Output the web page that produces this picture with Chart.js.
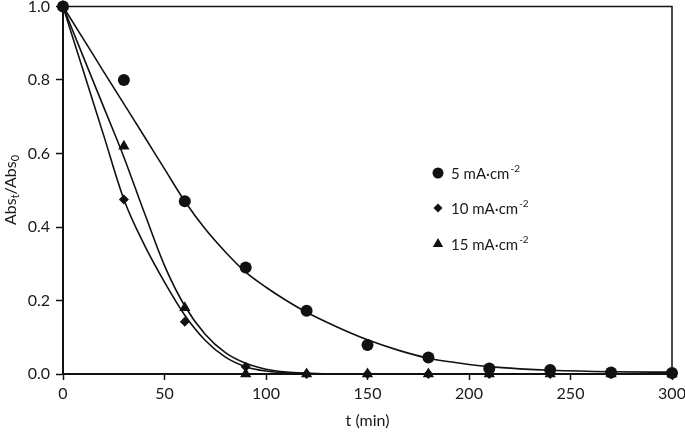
<!DOCTYPE html>
<html>
<head>
<meta charset="utf-8">
<script src="https://cdn.jsdelivr.net/npm/chart.js@4.4.0/dist/chart.umd.min.js"></script>
<style>
  html, body { margin: 0; padding: 0; background: #fff; }
  #wrap { width: 685px; height: 434px; }
</style>
</head>
<body>
<div id="wrap"><canvas id="myChart"></canvas></div>
<script>
// measured points (t in min, Abs_t/Abs_0)
const times = [0, 30, 60, 90, 120, 150, 180, 210, 240, 270, 300];
const abs5 = [1.0, 0.80, 0.47, 0.29, 0.172, 0.079, 0.045, 0.015, 0.011, 0.004, 0.003];
const abs10 = [1.0, 0.475, 0.142, 0.02, 0, 0, 0, 0, 0, 0, 0];
const abs15 = [1.0, 0.62, 0.18, 0, 0, 0, 0, 0, 0, 0, 0];

// fitted curves
const curveT = [0, 10, 20, 30, 40, 50, 60, 70, 80, 90, 100, 110, 120, 135, 150, 165, 180, 195, 210, 225, 240, 270, 300];
const curve5 = [1.0, 0.912, 0.823, 0.735, 0.647, 0.558, 0.47, 0.395, 0.332, 0.277, 0.236, 0.2, 0.168, 0.128, 0.093, 0.065, 0.043, 0.03, 0.02, 0.014, 0.01, 0.006, 0.005];
const curve10 = [1.0, 0.825, 0.65, 0.475, 0.352, 0.25, 0.16, 0.092, 0.046, 0.02, 0.008, 0.003, 0.001, 0, 0, 0, 0, 0, 0, 0, 0, 0, 0];
const curve15 = [1.0, 0.863, 0.727, 0.59, 0.44, 0.295, 0.185, 0.108, 0.058, 0.029, 0.013, 0.005, 0.002, 0, 0, 0, 0, 0, 0, 0, 0, 0, 0];

const legendLabels = ['5 mA\u00b7cm', '10 mA\u00b7cm', '15 mA\u00b7cm'];
const legendSup = '-2';
const xTitle = 't (min)';

const FONT = 'Lato, "Open Sans", sans-serif';
const INK = '#111';

function pts(xs, ys) {
    return xs.map((x, i) => ({ x: x, y: ys[i] }));
}

function curveSet(ys) {
    return {
        type: 'line',
        data: pts(curveT, ys),
        borderColor: INK,
        borderWidth: 1.6,
        pointRadius: 0,
        cubicInterpolationMode: 'monotone',
        fill: false,
        order: 2
    };
}

function markerSet(ys, style, r) {
    return {
        type: 'scatter',
        data: pts(times, ys),
        pointStyle: style,
        pointRadius: r,
        pointHoverRadius: r,
        backgroundColor: INK,
        borderColor: INK,
        borderWidth: 0,
        showLine: false,
        clip: false,
        order: 1
    };
}

const markers = [
    { style: 'circle', r: 6 },
    { style: 'rectRot', r: 5 },
    { style: 'triangle', r: 6.5 }
];

// frame, y title and legend
const extras = {
    id: 'extras',
    afterDraw(chart) {
        const ctx = chart.ctx;
        const a = chart.chartArea;
        ctx.save();
        ctx.strokeStyle = INK;
        ctx.lineWidth = 1.5;
        ctx.beginPath();
        ctx.moveTo(a.left, a.top);
        ctx.lineTo(a.right, a.top);
        ctx.lineTo(a.right, a.bottom);
        ctx.stroke();

        // y title with subscripts
        ctx.translate(11, 190);
        ctx.rotate(-Math.PI / 2);
        ctx.fillStyle = '#1a1a1a';
        ctx.textBaseline = 'middle';
        const big = '16px ' + FONT, small = '11px ' + FONT;
        const parts = [['Abs', big, 0], ['t', small, 4], ['/Abs', big, 0], ['0', small, 4]];
        let w = 0;
        parts.forEach(p => { ctx.font = p[1]; w += ctx.measureText(p[0]).width; });
        let x = -w / 2;
        parts.forEach(p => {
            ctx.font = p[1];
            ctx.fillText(p[0], x, p[2]);
            x += ctx.measureText(p[0]).width;
        });
        ctx.restore();

        // legend
        ctx.save();
        const ly = [173, 208, 244];
        legendLabels.forEach((txt, i) => {
            const m = markers[i];
            ctx.fillStyle = INK;
            ctx.strokeStyle = INK;
            Chart.helpers.drawPoint(ctx, { pointStyle: m.style, radius: m.r - 0.5, rotation: 0, borderWidth: 0 }, 438, ly[i]);
            ctx.fillStyle = '#1a1a1a';
            ctx.textBaseline = 'middle';
            ctx.font = '15px ' + FONT;
            ctx.fillText(txt, 451, ly[i] + 1);
            const tw = ctx.measureText(txt).width;
            ctx.font = '10px ' + FONT;
            ctx.fillText(legendSup, 451 + tw + 1, ly[i] - 4);
        });
        ctx.restore();
    }
};

const ctx = document.getElementById('myChart');
new Chart(ctx, {
    data: {
        datasets: [
            curveSet(curve5), curveSet(curve10), curveSet(curve15),
            markerSet(abs5, markers[0].style, markers[0].r),
            markerSet(abs10, markers[1].style, markers[1].r),
            markerSet(abs15, markers[2].style, markers[2].r)
        ]
    },
    options: {
        responsive: true,
        maintainAspectRatio: false,
        animation: false,
        events: [],
        layout: { padding: { left: 0, right: 13, top: 6, bottom: 0 } },
        scales: {
            x: {
                type: 'linear',
                min: 0,
                max: 300,
                ticks: { stepSize: 50, color: '#1a1a1a', font: { family: FONT, size: 16 }, padding: 4, maxRotation: 0 },
                grid: { drawOnChartArea: false, drawTicks: true, tickLength: 6, tickColor: INK, tickWidth: 1.5 },
                border: { color: INK, width: 2 },
                title: { display: true, text: xTitle, color: '#1a1a1a', font: { family: FONT, size: 16 }, padding: { top: 2 } },
                afterFit(s) { s.height = 60; s.paddingLeft = 0; s.paddingRight = 0; }
            },
            y: {
                min: 0,
                max: 1.0,
                ticks: { stepSize: 0.2, color: '#1a1a1a', font: { family: FONT, size: 16 }, padding: 6,
                         callback: v => v.toFixed(1) },
                grid: { drawOnChartArea: false, drawTicks: true, tickLength: 7, tickColor: INK, tickWidth: 1.5 },
                border: { color: INK, width: 2 },
                afterFit(s) { s.width = 63; s.paddingTop = 0; s.paddingBottom = 0; }
            }
        },
        plugins: {
            legend: { display: false },
            tooltip: { enabled: false }
        }
    },
    plugins: [extras]
});
</script>
</body>
</html>
